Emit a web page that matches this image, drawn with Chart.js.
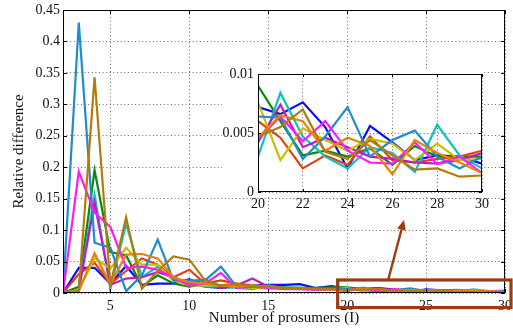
<!DOCTYPE html>
<html>
<head>
<meta charset="utf-8">
<script src="https://cdn.jsdelivr.net/npm/chart.js@4"></script>
<style>
  html, body { margin: 0; padding: 0; background: #fff; }
  #wrap { position: relative; width: 513px; height: 331px; }
  #mainChart { position: absolute; left: 0; top: 0; }
  #insetChart { position: absolute; left: 218px; top: 66px; }
</style>
</head>
<body>
<div id="wrap">
  <canvas id="mainChart" width="513" height="331"></canvas>
  <canvas id="insetChart" width="275" height="150"></canvas>
</div>
<script>
// number of prosumers, x = 2..30
const prosumers = [2,3,4,5,6,7,8,9,10,11,12,13,14,15,16,17,18,19,20,21,22,23,24,25,26,27,28,29,30];

const blue      = [0,0.04,0.04,0.015,0.043,0.013,0.015,0.015,0.022,0.01,0.008,0.01,0.012,0.013,0.013,0.014,0.008,0.011,
                   0.0072,0.0066,0.0076,0.0055,0.002,0.0056,0.0042,0.0027,0.0031,0.003,0.0024];
const steelBlue = [0,0.43,0.08,0.072,0.003,0.028,0.085,0.02,0.02,0.02,0.042,0.01,0.012,0.01,0.008,0.008,0.007,0.007,
                   0.0064,0.0063,0.0028,0.0047,0.0072,0.003,0.0044,0.0052,0.003,0.002,0.003];
const green     = [0,0.01,0.195,0.065,0.06,0.01,0.028,0.015,0.01,0.014,0.012,0.012,0.01,0.01,0.009,0.008,0.008,0.009,
                   0.009,0.006,0.0031,0.0035,0.003,0.0037,0.0023,0.0039,0.003,0.003,0.003];
const cyan      = [0,0.005,0.156,0.007,0.11,0.025,0.042,0.02,0.015,0.01,0.01,0.008,0.006,0.012,0.008,0.007,0.006,0.006,
                   0.003,0.0084,0.0047,0.003,0.002,0.0038,0.0033,0.0017,0.0057,0.0031,0.002];
const purple    = [0,0.005,0.143,0.013,0.023,0.025,0.033,0.025,0.015,0.022,0.008,0.012,0.023,0.01,0.008,0.007,0.006,0.006,
                   0.0042,0.0074,0.0038,0.0046,0.0038,0.003,0.0028,0.0025,0.0024,0.0027,0.0033];
const magenta   = [0,0.193,0.128,0.105,0.04,0.042,0.037,0.025,0.012,0.015,0.032,0.008,0.01,0.008,0.006,0.006,0.005,0.005,
                   0.0045,0.0064,0.0043,0.006,0.0035,0.0025,0.0024,0.0042,0.0024,0.003,0.0016];
const yellow    = [0,0.005,0.055,0.039,0.072,0.045,0.045,0.02,0.012,0.012,0.012,0.01,0.008,0.007,0.007,0.006,0.006,0.006,
                   0.0076,0.0027,0.0054,0.0044,0.0035,0.0045,0.0041,0.0027,0.0041,0.0027,0.0028];
const red       = [0,0.03,0.048,0.015,0.035,0.055,0.045,0.025,0.037,0.015,0.02,0.015,0.012,0.01,0.008,0.007,0.007,0.006,
                   0.006,0.0046,0.002,0.0031,0.0023,0.0047,0.0027,0.0025,0.0028,0.003,0.0035];
const orange    = [0,0.003,0.063,0.014,0.061,0.062,0.055,0.025,0.017,0.015,0.012,0.01,0.012,0.01,0.008,0.007,0.006,0.005,
                   0.0046,0.0065,0.006,0.0035,0.0046,0.0039,0.0015,0.0044,0.0033,0.0025,0.0016];
const brown     = [0,0.003,0.343,0.013,0.12,0.007,0.035,0.058,0.053,0.02,0.012,0.015,0.01,0.01,0.008,0.007,0.006,0.006,
                   0.0047,0.0055,0.007,0.0034,0.0028,0.0044,0.0031,0.0019,0.002,0.0013,0.0014];

const xTicks = [5,10,15,20,25,30];
const yTicks = [0,0.05,0.1,0.15,0.2,0.25,0.3,0.35,0.4,0.45];
const insetXTicks = [20,22,24,26,28,30];
const insetYTicks = [0,0.005,0.01];

// first dataset ends up on top
const series = [
  [brown, '#b57a0c'], [orange, '#e8820a'], [magenta, '#ff19ff'], [steelBlue, '#1e8ccf'],
  [yellow, '#c2c200'], [purple, '#bf1abf'], [cyan, '#12c0c0'], [red, '#e0400e'],
  [green, '#0a880a'], [blue, '#0a0aff'],
];

const FONT = 'Liberation Serif, Times New Roman, serif';
const annColor = '#9c3b10';

function makeDatasets(fromX) {
  return series.map(([vals, col]) => ({
    data: prosumers.map((x, i) => ({ x, y: vals[i] })).filter(p => p.x >= fromX),
    borderColor: col, borderWidth: 2.2, pointRadius: 0, fill: false, tension: 0,
  }));
}

function noPad(s) { s.paddingLeft = 0; s.paddingRight = 0; s.paddingTop = 0; s.paddingBottom = 0; }

function framePlugin(tickLen, withAnnotation) {
  return {
    id: 'frame',
    afterDraw(chart) {
      const { ctx, chartArea: a, scales: { x, y } } = chart;
      ctx.save();
      ctx.strokeStyle = '#000';
      ctx.lineWidth = 1;
      ctx.strokeRect(Math.round(a.left) + 0.5, Math.round(a.top) + 0.5,
                     Math.round(a.right - a.left) - 1, Math.round(a.bottom - a.top) - 1);
      ctx.beginPath();
      x.ticks.forEach(t => {
        const px = Math.round(x.getPixelForValue(t.value)) + 0.5;
        ctx.moveTo(px, a.bottom); ctx.lineTo(px, a.bottom - tickLen);
        ctx.moveTo(px, a.top); ctx.lineTo(px, a.top + tickLen);
      });
      y.ticks.forEach(t => {
        const py = Math.round(y.getPixelForValue(t.value)) + 0.5;
        ctx.moveTo(a.left, py); ctx.lineTo(a.left + tickLen, py);
        ctx.moveTo(a.right, py); ctx.lineTo(a.right - tickLen, py);
      });
      ctx.stroke();

      if (withAnnotation) {
        // box around the zoomed region and arrow to the inset
        const l = x.getPixelForValue(19.4), r = x.getPixelForValue(30.38);
        const t = y.getPixelForValue(0.0207), b = y.getPixelForValue(-0.0231);
        ctx.strokeStyle = annColor;
        ctx.fillStyle = annColor;
        ctx.lineWidth = 3.2;
        ctx.strokeRect(l, t, r - l, b - t);
        const x0 = x.getPixelForValue(22.6), y0 = t;
        const x1 = x.getPixelForValue(23.6), y1 = y.getPixelForValue(0.116);
        const ang = Math.atan2(y1 - y0, x1 - x0);
        const hl = 10, hw = 4.5;
        const bx = x1 - hl * Math.cos(ang), by = y1 - hl * Math.sin(ang);
        ctx.lineWidth = 2.4;
        ctx.beginPath(); ctx.moveTo(x0, y0); ctx.lineTo(bx, by); ctx.stroke();
        ctx.beginPath();
        ctx.moveTo(x1, y1);
        ctx.lineTo(bx + hw * Math.sin(ang), by - hw * Math.cos(ang));
        ctx.lineTo(bx - hw * Math.sin(ang), by + hw * Math.cos(ang));
        ctx.closePath(); ctx.fill();
      }
      ctx.restore();
    }
  };
}

const whiteBg = {
  id: 'whiteBg',
  beforeDraw(chart) {
    const { ctx, chartArea: a } = chart;
    ctx.save();
    ctx.fillStyle = '#fff';
    ctx.fillRect(a.left - 36, a.top - 4, a.right - a.left + 36, a.bottom - a.top + 8);
    ctx.restore();
  }
};

const gridOpts = { color: '#666', lineWidth: 1, drawTicks: false };
const borderOpts = { display: false, dash: [1, 2.6] };
const tickFont = { family: FONT, size: 14 };

new Chart(document.getElementById('mainChart'), {
  type: 'line',
  data: { datasets: makeDatasets(2) },
  options: {
    responsive: false, animation: false,
    layout: { padding: { top: 10, right: 8, left: 0, bottom: 0 } },
    plugins: { legend: { display: false }, tooltip: { enabled: false } },
    scales: {
      x: {
        type: 'linear', min: 2, max: 30,
        afterBuildTicks: s => { s.ticks = xTicks.map(v => ({ value: v })); },
        afterFit: s => { s.height = 38; noPad(s); },
        grid: gridOpts, border: borderOpts,
        ticks: { font: tickFont, color: '#111', padding: 5, maxRotation: 0 },
        title: { display: true, text: 'Number of prosumers (I)', font: { family: FONT, size: 15 },
                 color: '#111', padding: { top: 0, bottom: 4 } },
      },
      y: {
        min: 0, max: 0.45,
        afterBuildTicks: s => { s.ticks = yTicks.map(v => ({ value: v })); },
        afterFit: s => { s.width = 63; noPad(s); },
        grid: gridOpts, border: borderOpts,
        ticks: { font: tickFont, color: '#111', padding: 3, callback: v => String(+v.toFixed(2)) },
        title: { display: true, text: 'Relative difference', font: { family: FONT, size: 15 },
                 color: '#111', padding: { top: 10, bottom: 0 } },
      },
    },
  },
  plugins: [framePlugin(4, true)],
});

new Chart(document.getElementById('insetChart'), {
  type: 'line',
  data: { datasets: makeDatasets(20) },
  options: {
    responsive: false, animation: false,
    layout: { padding: { top: 8, right: 11, left: 0, bottom: 0 } },
    plugins: { legend: { display: false }, tooltip: { enabled: false } },
    scales: {
      x: {
        type: 'linear', min: 20, max: 30,
        afterBuildTicks: s => { s.ticks = insetXTicks.map(v => ({ value: v })); },
        afterFit: s => { s.height = 24; noPad(s); },
        grid: gridOpts, border: borderOpts,
        ticks: { font: tickFont, color: '#111', padding: 4, maxRotation: 0 },
      },
      y: {
        min: 0, max: 0.01,
        afterBuildTicks: s => { s.ticks = insetYTicks.map(v => ({ value: v })); },
        afterFit: s => { s.width = 40; noPad(s); },
        grid: gridOpts, border: borderOpts,
        ticks: { font: tickFont, color: '#111', padding: 4, callback: v => String(+v.toFixed(3)) },
      },
    },
  },
  plugins: [whiteBg, framePlugin(3, false)],
});
</script>
</body>
</html>
